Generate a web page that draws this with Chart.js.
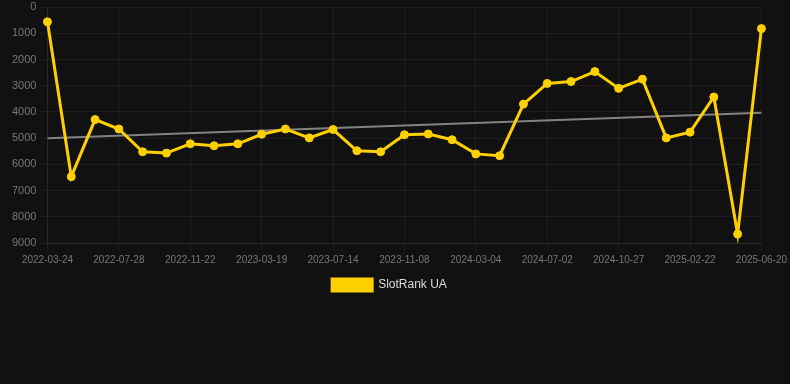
<!DOCTYPE html>
<html>
<head>
<meta charset="utf-8">
<script src="https://cdn.jsdelivr.net/npm/chart.js@4/dist/chart.umd.min.js"></script>
<style>
  html, body { margin: 0; padding: 0; background: #111111; }
  #wrap { position: relative; width: 790px; height: 301px; }
</style>
</head>
<body>
<div id="wrap"><canvas id="chart"></canvas></div>
<script>
const fechas = [
  "2022-03-24", "2022-05-05", "2022-06-16", "2022-07-28", "2022-09-05", "2022-10-14",
  "2022-11-22", "2022-12-31", "2023-02-08", "2023-03-19", "2023-04-27", "2023-06-05",
  "2023-07-14", "2023-08-22", "2023-09-30", "2023-11-08", "2023-12-17", "2024-01-25",
  "2024-03-04", "2024-04-13", "2024-05-23", "2024-07-02", "2024-08-10", "2024-09-18",
  "2024-10-27", "2024-12-05", "2025-01-14", "2025-02-22", "2025-04-02", "2025-05-12",
  "2025-06-20"
];

const rankUA = [
  560, 6470, 4290, 4650, 5520, 5570, 5215, 5290, 5215, 4850, 4650,
  4990, 4670, 5480, 5520, 4870, 4840, 5060, 5600, 5670, 3700,
  2910, 2840, 2460, 3100, 2750, 4990, 4770, 3430, 8660, 820
];

// tendencia: solo extremos, el resto se une con spanGaps
const tendenciaInicio = 5000;
const tendenciaFin = 4030;

const tendencia = fechas.map((f, i) => {
  if (i === 0) return tendenciaInicio;
  if (i === fechas.length - 1) return tendenciaFin;
  return null;
});

const ctx = document.getElementById("chart").getContext("2d");

new Chart(ctx, {
  type: "line",
  data: {
    labels: fechas,
    datasets: [
      {
        label: "SlotRank UA",
        data: rankUA,
        borderColor: "#ffd000",
        backgroundColor: "#ffd000",
        borderWidth: 3,
        pointRadius: 4,
        pointBorderWidth: 1,
        pointHoverRadius: 4,
        pointBackgroundColor: "#ffd000",
        pointBorderColor: "#ffd000",
        tension: 0,
      },
      {
        label: "trend",
        data: tendencia,
        borderColor: "rgba(150,150,150,0.85)",
        borderWidth: 2,
        pointRadius: 0,
        spanGaps: true,
      },
    ],
  },
  options: {
    responsive: true,
    maintainAspectRatio: false,
    animation: false,
    layout: { padding: { left: 9, right: 20 } },
    plugins: {
      legend: {
        position: "bottom",
        labels: {
          color: "#dddddd",
          font: { size: 12 },
          boxWidth: 40,
          filter: (item) => item.text !== "trend",
        },
      },
      tooltip: { enabled: false },
    },
    scales: {
      x: {
        grid: { color: "rgba(255,255,255,0.05)" },
        border: { color: "rgba(255,255,255,0.08)" },
        ticks: {
          color: "#777777",
          font: { size: 10 },
          autoSkip: false,
          maxRotation: 0,
          callback: function (value, index) {
            return index % 3 === 0 ? this.getLabelForValue(value) : null;
          },
        },
      },
      y: {
        reverse: true,
        min: 0,
        max: 9000,
        grid: { color: "rgba(255,255,255,0.05)" },
        border: { color: "rgba(255,255,255,0.05)" },
        ticks: {
          color: "#777777",
          font: { size: 11, lineHeight: 0.75 },
          stepSize: 1000,
          callback: (v) => String(v),
        },
      },
    },
  },
});
</script>
</body>
</html>
